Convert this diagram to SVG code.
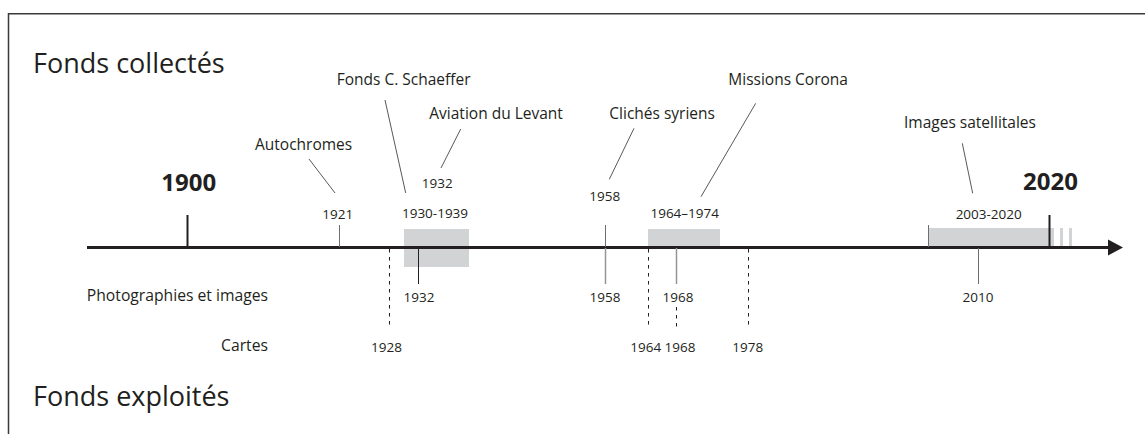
<svg xmlns="http://www.w3.org/2000/svg" width="1145" height="434" viewBox="0 0 1145 434">
<style>
text{font-family:"Open Sans","Liberation Sans",sans-serif;fill:#231f20}
.h{font-size:27px}
.lab{font-size:15.5px}
.yr{font-size:13.5px;text-anchor:middle}
.big{font-size:24px;font-weight:bold;text-anchor:middle}
.row{font-size:15.7px;text-anchor:end}
.box{fill:#d1d3d4}
.lead{stroke:#231f20;stroke-width:0.75;fill:none}
.dash{stroke:#231f20;stroke-width:1;stroke-dasharray:3.5 4.5;fill:none}
.tk{stroke:#231f20;stroke-width:2;fill:none}
.tg{stroke:#6d6e71;stroke-width:1;fill:none}
.tl{stroke:#939598;stroke-width:1.5;fill:none}
</style>
<rect width="1145" height="434" fill="#fff"/>
<path d="M8.5,434 V13.75 H1145" fill="none" stroke="#3a3a3a" stroke-width="1.5"/>

<g id="headings">
<text class="h" x="33" y="73">Fonds collectés</text>
<text class="h" x="33" y="406">Fonds exploités</text>
<text class="row" x="268" y="301">Photographies et images</text>
<text class="row" x="268" y="351">Cartes</text>
</g>

<g id="periods">
<rect id="p1930" class="box" x="404" y="229" width="65" height="38"/>
<rect id="p1964" class="box" x="648" y="229" width="72" height="18.5"/>
<rect id="p2003" class="box" x="928" y="228" width="126" height="19.5"/>
<rect class="box" x="1060" y="228" width="3" height="19.5"/>
<rect class="box" x="1069" y="228" width="3" height="19.5"/>
</g>

<g id="axis">
<line x1="87" y1="247.5" x2="1110" y2="247.5" stroke="#231f20" stroke-width="3"/>
<polygon points="1108,239.5 1123,247.5 1108,255.5" fill="#231f20"/>
</g>

<g id="connectors">
<line class="tk" x1="187.5" y1="215" x2="187.5" y2="247"/>
<line class="tk" x1="1049.5" y1="215" x2="1049.5" y2="247"/>
<line class="tg" x1="339.5" y1="225" x2="339.5" y2="247"/>
<line class="tg" x1="605.5" y1="225" x2="605.5" y2="247"/>
<line class="tg" x1="928.5" y1="225" x2="928.5" y2="247"/>
<line class="tl" x1="605.5" y1="248" x2="605.5" y2="284"/>
<line class="tl" x1="676.5" y1="248" x2="676.5" y2="284"/>
<line class="tg" x1="978.5" y1="248" x2="978.5" y2="284"/>
<line stroke="#231f20" stroke-width="1" x1="418.5" y1="248" x2="418.5" y2="284"/>
<line class="dash" x1="389.5" y1="249" x2="389.5" y2="329"/>
<line class="dash" x1="648.5" y1="249" x2="648.5" y2="329"/>
<line class="dash" x1="748.5" y1="249" x2="748.5" y2="329"/>
<line class="dash" x1="676.5" y1="307" x2="676.5" y2="329"/>
<line class="lead" x1="309" y1="159" x2="335" y2="193"/>
<line class="lead" x1="385" y1="100" x2="405.7" y2="193"/>
<line class="lead" x1="460.7" y1="129" x2="441" y2="168"/>
<line class="lead" x1="634" y1="128.3" x2="609.3" y2="179.3"/>
<line class="lead" x1="755.7" y1="103.3" x2="701" y2="196.7"/>
<line class="lead" x1="962.3" y1="143.3" x2="972.7" y2="193.3"/>
</g>

<g id="n1900"><text class="big" x="188.7" y="191">1900</text></g>
<g id="n2020"><text class="big" x="1050.5" y="190">2020</text></g>
<g id="autochromes">
<text class="lab" x="255" y="150">Autochromes</text>
<text class="yr" x="337.7" y="219.3">1921</text>
</g>
<g id="schaeffer">
<text class="lab" x="336.7" y="85">Fonds C. Schaeffer</text>
<text class="yr" x="435" y="218.3">1930-1939</text>
</g>
<g id="aviation">
<text class="lab" x="429.3" y="119">Aviation du Levant</text>
<text class="yr" x="437.3" y="188.3">1932</text>
</g>
<g id="cliches">
<text class="lab" x="609.3" y="119.3">Clichés syriens</text>
<text class="yr" x="604.7" y="200.7">1958</text>
</g>
<g id="corona">
<text class="lab" x="728.3" y="85">Missions Corona</text>
<text class="yr" x="684.7" y="218.3">1964–1974</text>
</g>
<g id="satellites">
<text class="lab" x="904" y="128.3">Images satellitales</text>
<text class="yr" x="988.7" y="219">2003-2020</text>
</g>
<g id="photos">
<text class="yr" x="419" y="302">1932</text>
<text class="yr" x="605" y="302">1958</text>
<text class="yr" x="678" y="302">1968</text>
<text class="yr" x="978" y="302">2010</text>
</g>
<g id="cartes">
<text class="yr" x="386.5" y="351.5">1928</text>
<text class="yr" x="645.7" y="351.5">1964</text>
<text class="yr" x="680" y="351.5">1968</text>
<text class="yr" x="747.7" y="351.5">1978</text>
</g>
</svg>
